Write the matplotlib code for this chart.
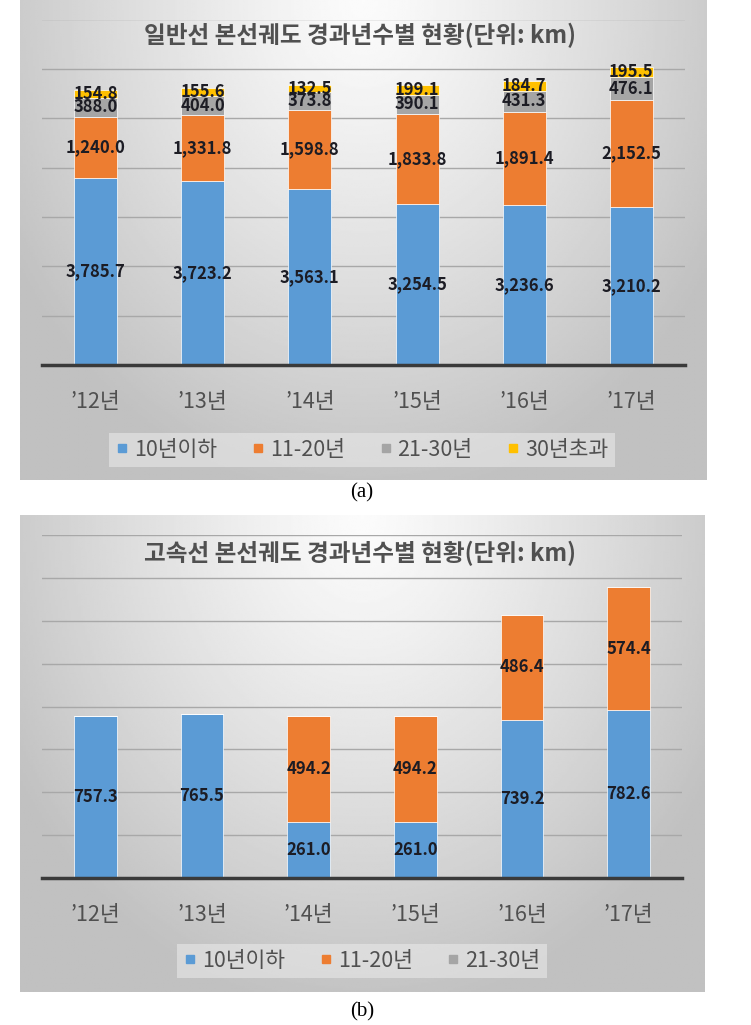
import matplotlib.pyplot as plt
import numpy as np
from matplotlib.lines import Line2D

plt.rcParams['font.family'] = ['Noto Sans CJK KR', 'DejaVu Sans']

years = ["’12년", "’13년", "’14년", "’15년", "’16년", "’17년"]

# (a) 일반선
gen_le10 = [3785.7, 3723.2, 3563.1, 3254.5, 3236.6, 3210.2]
gen_11_20 = [1240.0, 1331.8, 1598.8, 1833.8, 1891.4, 2152.5]
gen_21_30 = [388.0, 404.0, 373.8, 390.1, 431.3, 476.1]
gen_over30 = [154.8, 155.6, 132.5, 199.1, 184.7, 195.5]

# (b) 고속선
hs_le10 = [757.3, 765.5, 261.0, 261.0, 739.2, 782.6]
hs_11_20 = [0.0, 0.0, 494.2, 494.2, 486.4, 574.4]
hs_21_30 = [0.0, 0.0, 0.0, 0.0, 0.0, 0.0]

names = ['10년이하', '11-20년', '21-30년', '30년초과']
colors = ['#5B9BD5', '#ED7D31', '#A5A5A5', '#FFC000']

W, H = 751, 1025


def fig_rect(x0, y0, x1, y1):
    # pixel box (top-left origin) -> figure fraction
    return [x0 / W, 1 - y1 / H, (x1 - x0) / W, (y1 - y0) / H]


def background(fig, rect):
    bg = fig.add_axes(rect, zorder=0)
    xx, yy = np.meshgrid(np.linspace(0, 1, 300), np.linspace(0, 1, 300))
    r = np.sqrt(((xx - 0.5) / 0.6) ** 2 + (yy / 1.05) ** 2)
    g = 0.985 - 0.23 * np.clip(r, 0, 1) ** 1.2
    bg.imshow(g, extent=[0, 1, 0, 1], cmap='gray', vmin=0, vmax=1,
              aspect='auto', origin='upper')
    bg.axis('off')


def panel(fig, bg_rect, ax_rect, title, title_y, series, ymax, step, leg_y):
    background(fig, bg_rect)
    ax = fig.add_axes(ax_rect, zorder=1)
    ax.set_facecolor('none')
    x = np.arange(len(years))
    bottom = np.zeros(len(years))
    for vals, c in zip(series, colors):
        vals = np.array(vals)
        bars = ax.bar(x, vals, 0.4, bottom=bottom, color=c,
                      edgecolor='white', linewidth=0.5, zorder=2)
        labels = ['{:,.1f}'.format(v) if v > 5 else '' for v in vals]
        ax.bar_label(bars, labels=labels, label_type='center',
                     fontsize=12, fontweight='bold', color='#1c1c24')
        bottom += vals
    ax.set_xlim(-0.5, len(years) - 0.5)
    ax.set_ylim(0, ymax)
    ax.set_yticks(np.arange(0, ymax + 1, step))
    ax.set_yticklabels([])
    ax.grid(axis='y', color='#a8a8a8', lw=1, zorder=0)
    ax.tick_params(length=0, pad=19)
    ax.set_xticks(x)
    ax.set_xticklabels(years, fontsize=15.5, color='#505050')
    for s in ['top', 'right', 'left']:
        ax.spines[s].set_visible(False)
    ax.spines['bottom'].set_color('#3a3a3a')
    ax.spines['bottom'].set_linewidth(2.5)
    ax.spines['bottom'].set_zorder(3)

    fig.text(0.480, title_y, title, ha='center', va='center', fontsize=17,
             fontweight='bold', color='#505050')

    handles = [Line2D([], [], marker='s', ls='', color=c, markersize=6)
               for c in colors[:len(series)]]
    leg = fig.legend(handles, names[:len(series)], loc='center',
                     bbox_to_anchor=(0.482, leg_y), ncol=len(series),
                     fontsize=15.5, handlelength=0.6, handletextpad=0.25,
                     columnspacing=1.6, borderpad=0.3, frameon=True,
                     framealpha=0.55, fancybox=False)
    leg.get_frame().set_facecolor('#ececec')
    leg.get_frame().set_edgecolor('none')
    for t in leg.get_texts():
        t.set_color('#505050')
    return ax


fig = plt.figure(figsize=(W / 100, H / 100), dpi=100)

panel(fig, fig_rect(20, 0, 707, 480), fig_rect(42, 19.5, 685, 365),
      '일반선 본선궤도 경과년수별 현황(단위: km)', 1 - 35 / H,
      [gen_le10, gen_11_20, gen_21_30, gen_over30], 7000, 1000, 1 - 450 / H)

panel(fig, fig_rect(20, 515, 705, 992), fig_rect(42, 535, 682, 878),
      '고속선 본선궤도 경과년수별 현황(단위: km)', 1 - 553 / H,
      [hs_le10, hs_11_20, hs_21_30], 1600, 200, 1 - 961 / H)

fig.text(0.482, 1 - 493 / H, '(a)', ha='center', va='center',
         fontsize=15, family='Liberation Serif')
fig.text(0.482, 1 - 1012 / H, '(b)', ha='center', va='center',
         fontsize=15, family='Liberation Serif')

fig.savefig('out.png', dpi=100)
